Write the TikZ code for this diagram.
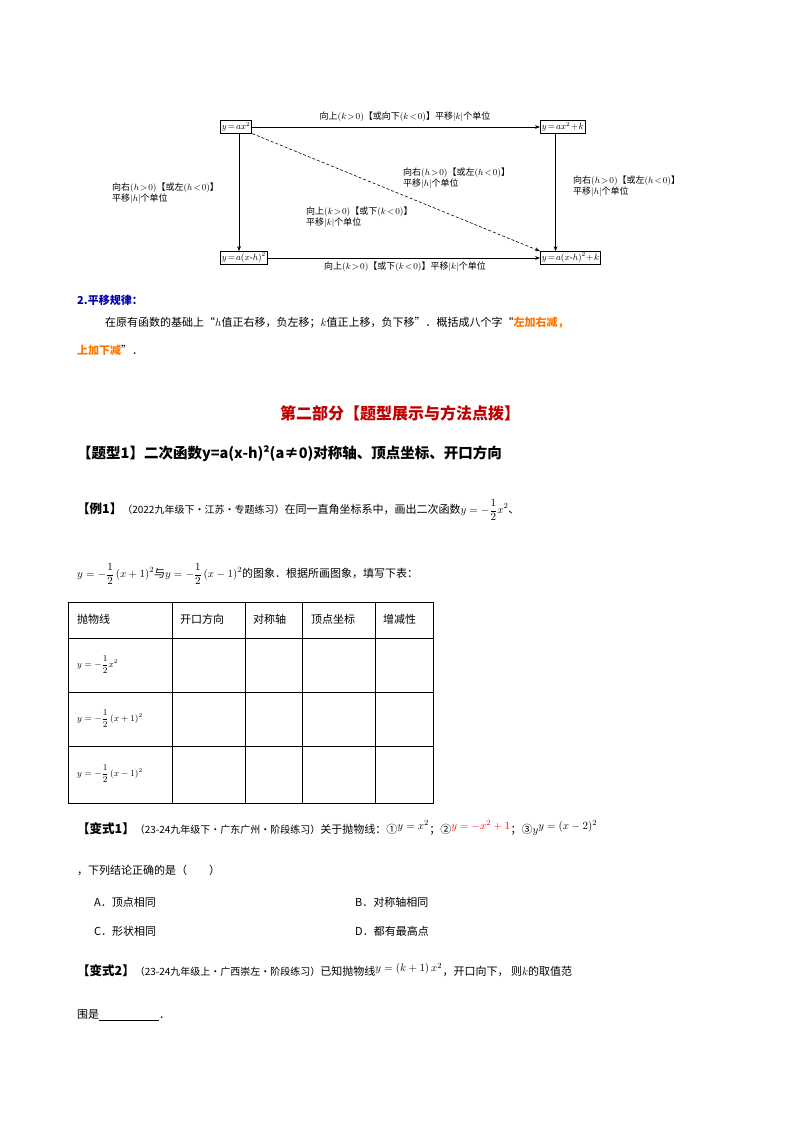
\documentclass[tikz,border=0pt]{standalone}
\usepackage{fontspec}
\setmainfont{Liberation Serif}
\newfontfamily\cjk{Noto Sans CJK SC}
\usetikzlibrary{arrows.meta}
\newcommand{\hf}{\displaystyle\frac{1}{2}}
\begin{document}
\begin{tikzpicture}[x=1pt,y=-1pt,
 fbox/.style={draw,line width=0.8pt,inner sep=1.5pt,font=\fontsize{9}{10}\selectfont},
 lab/.style={font=\cjk\fontsize{9}{11}\selectfont,align=left,inner sep=0pt},
 arr/.style={-{Stealth[length=5pt]},line width=0.6pt},
 txt/.style={anchor=west,inner sep=0pt,font=\cjk\fontsize{11}{13}\selectfont},
 cell/.style={anchor=west,inner sep=0pt,font=\cjk\fontsize{11}{13}\selectfont}]
\useasboundingbox (0,0) rectangle (800,1132);
% diagram
\node[fbox,anchor=west] (a) at (220,127) {$y\!=\!ax^2$};
\node[fbox,anchor=west] (b) at (540,127) {$y\!=\!ax^2\!+\!k$};
\node[fbox,anchor=west] (c) at (220,258) {$y\!=\!a(x\mbox{-}h)^2$};
\node[fbox,anchor=west] (d) at (540,258) {$y\!=\!a(x\mbox{-}h)^2\!+\!k$};
\draw[arr] (a) -- (b);
\draw[arr] (c) -- (d);
\draw[arr] (a.south west)++(19,0) coordinate (a1) (a1) -- (a1|-c.north);
\draw[arr] (b.south east)++(-30,0) coordinate (b1) (b1) -- (b1|-d.north);
\draw[arr,densely dashed] (a.south east) -- (d.north west);
\node[lab,anchor=south] (l1) at (405,122) {向上$(k\!>\!0)$【或向下$(k\!<\!0)$】平移$|k|$个单位};
\node[lab,anchor=north] (l2) at (405,262) {向上$(k\!>\!0)$【或下$(k\!<\!0)$】平移$|k|$个单位};
\node[lab,anchor=west] (l3) at (112,193) {向右$(h\!>\!0)$【或左$(h\!<\!0)$】\\平移$|h|$个单位};
\node[lab,anchor=west] (l4) at (573,186) {向右$(h\!>\!0)$【或左$(h\!<\!0)$】\\平移$|h|$个单位};
\node[lab,anchor=west] (l5) at (403,178) {向右$(h\!>\!0)$【或左$(h\!<\!0)$】\\平移$|h|$个单位};
\node[lab,anchor=west] (l6) at (306,217) {向上$(k\!>\!0)$【或下$(k\!<\!0)$】\\平移$|k|$个单位};
% section 2
\node[txt,anchor=west,text=blue!70!black,font=\cjk\bfseries\fontsize{11}{13}\selectfont] (s2) at (77,300) {2.平移规律：};
\node[txt] (p1) at (105,323) {在原有函数的基础上“$h$值正右移，负左移；$k$值正上移，负下移”．概括成八个字“\textcolor{orange!90!red}{\bfseries 左加右减，}};
\node[txt] (p2) at (77,350) {\textcolor{orange!90!red}{\bfseries 上加下减}”．};
\node[font=\cjk\bfseries\fontsize{16}{19}\selectfont,text=red!75!black] (h) at (400,413) {第二部分【题型展示与方法点拨】};
\node[txt,font=\cjk\bfseries\fontsize{14.5}{17}\selectfont] (t1) at (77,454) {【题型1】二次函数y=a(x-h)²(a≠0)对称轴、顶点坐标、开口方向};
\node[txt] (e1) at (77,510) {{\bfseries\fontsize{12.5}{14}\selectfont 【例1】}{\fontsize{10}{12}\selectfont（2022九年级下·江苏·专题练习）}在同一直角坐标系中，画出二次函数$y=-\hf x^2$、};
\node[txt] (e2) at (77,574) {$y=-\hf\left(x+1\right)^2$与$y=-\hf\left(x-1\right)^2$的图象．根据所画图象，填写下表：};
% table
\draw[line width=0.8pt] (68,602) rectangle (433,803);
\foreach \x in {172,245,302,375} \draw[line width=0.8pt] (\x,602) -- (\x,803);
\foreach \y in {638,692,746} \draw[line width=0.8pt] (68,\y) -- (433,\y);
\node[cell] (h0) at (77,619) {抛物线};
\node[cell] (h1) at (180,619) {开口方向};
\node[cell] (h2) at (253,619) {对称轴};
\node[cell] (h3) at (311,619) {顶点坐标};
\node[cell] (h4) at (383,619) {增减性};
\node[cell,font=\fontsize{9}{11}\selectfont] (r1) at (77,665) {$y=-\hf x^2$};
\node[cell,font=\fontsize{9}{11}\selectfont] (r2) at (77,719) {$y=-\hf\left(x+1\right)^2$};
\node[cell,font=\fontsize{9}{11}\selectfont] (r3) at (77,774) {$y=-\hf\left(x-1\right)^2$};
% bianshi 1
\node[txt] (v1) at (77,828) {{\bfseries\fontsize{12.5}{14}\selectfont 【变式1】}{\fontsize{10}{12}\selectfont（23-24九年级下·广东广州·阶段练习）}关于抛物线：①$^{\textstyle y=x^2}$；②\textcolor{red}{$^{\textstyle y=-x^2+1}$}；③$y^{\textstyle y=(x-2)^2}$};
\node[txt] (v2) at (77,870) {，下列结论正确的是（\qquad）};
\node[txt] (oa) at (94,902) {A．顶点相同};
\node[txt] (ob) at (355,902) {B．对称轴相同};
\node[txt] (oc) at (94,931) {C．形状相同};
\node[txt] (od) at (355,931) {D．都有最高点};
\node[txt] (w1) at (77,970) {{\bfseries\fontsize{12.5}{14}\selectfont 【变式2】}{\fontsize{10}{12}\selectfont（23-24九年级上·广西崇左·阶段练习）}已知抛物线$^{\textstyle y=\left(k+1\right)x^2}$，开口向下，\ 则$k$的取值范};
\node[txt] (w2) at (77,1015) {围是\underline{\hspace{60pt}}．};
\end{tikzpicture}
\end{document}
